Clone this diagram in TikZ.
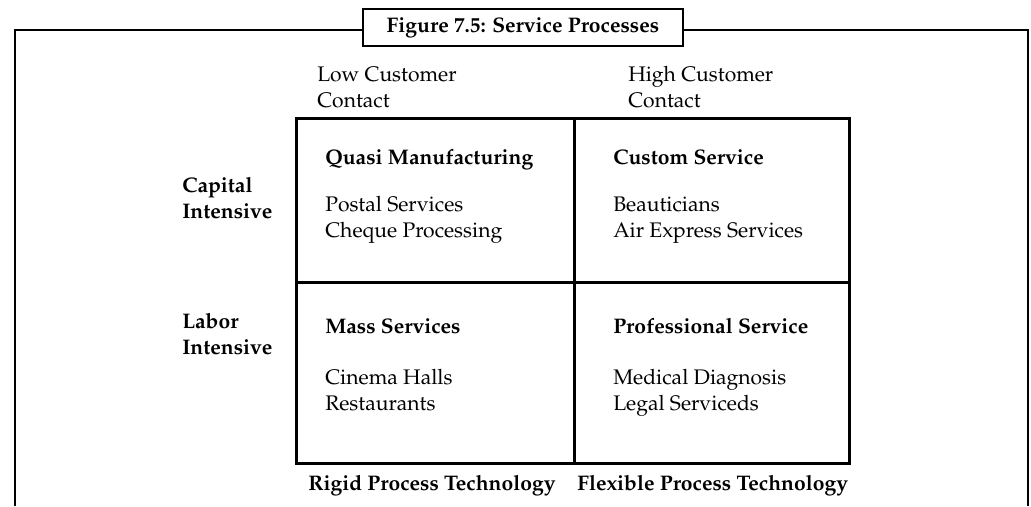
\documentclass[tikz,border=0pt]{standalone}
\usepackage[T1]{fontenc}
\renewcommand{\rmdefault}{ppl}
\usetikzlibrary{positioning}

\tikzset{
  txt/.style={anchor=base west,inner sep=0pt,align=left,font=\fontsize{15}{17.8}\selectfont},
  bld/.style={txt,font=\fontsize{15}{17.8}\selectfont\bfseries},
  cell/.style={draw,line width=2.1pt,anchor=north west,inner sep=0pt}
}

\begin{document}
\begin{tikzpicture}[x=0.025cm,y=-0.025cm]
\useasboundingbox (0,0) rectangle (1031,506);
% outer frame, open at the bottom
\coordinate (fbl) at (15,506);
\coordinate (fbr) at (1028,506);
\draw[line width=1.8pt] (fbl) -- (15,30) -- (1028,30) -- (fbr);
\node[draw,fill=white,line width=1.8pt,minimum width=8cm,minimum height=0.925cm,inner sep=0pt,
      font=\fontsize{15}{17.8}\selectfont\bfseries] (title) at (523,27.5) {Figure 7.5: Service Processes};

% column heads (base = last line)
\node[txt] (low) at (317,107) {Low Customer\\Contact};
\node[txt] (high) at (628,107) {High Customer\\Contact};

% row heads
\node[bld] (cap) at (182,218) {Capital\\Intensive};
\node[bld] (lab) at (182,354) {Labor\\Intensive};

% the four cells
\node[cell,minimum width=6.95cm,minimum height=4.1cm] (qm) at (295,117) {};
\node[cell,minimum width=6.875cm,minimum height=4.1cm] (cs) at (573,117) {};
\node[cell,minimum width=6.95cm,minimum height=4.525cm] (ms) at (295,281) {};
\node[cell,minimum width=6.875cm,minimum height=4.525cm] (ps) at (573,281) {};

\node[bld] (qmh) at (325,164) {Quasi Manufacturing};
\node[txt] (qmi) at (325,237) {Postal Services\\Cheque Processing};
\node[bld] (csh) at (613,164) {Custom Service};
\node[txt] (csi) at (613,237) {Beauticians\\Air Express Services};
\node[bld] (msh) at (325,333) {Mass Services};
\node[txt] (msi) at (325,410) {Cinema Halls\\Restaurants};
\node[bld] (psh) at (613,333) {Professional Service};
\node[txt] (psi) at (613,410) {Medical Diagnosis\\Legal Serviceds};

% column feet
\node[bld] (rig) at (308,490) {Rigid Process Technology};
\node[bld] (flx) at (577,490) {Flexible Process Technology};
\end{tikzpicture}
\end{document}
